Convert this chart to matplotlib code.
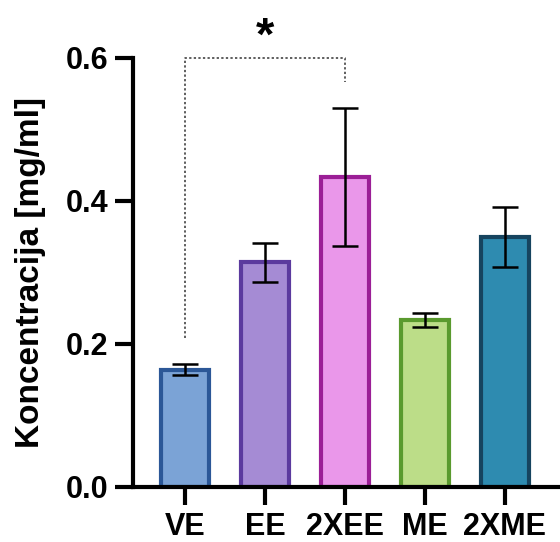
import matplotlib

matplotlib.use("Agg")
import matplotlib.pyplot as plt

plt.rcParams["font.family"] = ["Liberation Sans", "DejaVu Sans"]
plt.rcParams["font.weight"] = "bold"

groups = ["VE", "EE", "2XEE", "ME", "2XME"]
means = [0.164, 0.314, 0.434, 0.234, 0.350]
errors = [0.0077, 0.027, 0.0965, 0.0098, 0.042]
fills = ["#7ba3d6", "#a58bd4", "#ea97ea", "#bcdd88", "#2e8bb0"]
edges = ["#2b5797", "#5b3a9e", "#9b1e96", "#5a9a2e", "#16445f"]

# significance bracket between VE and 2XEE
sig_pair = (0, 2)
sig_left_low = 0.208
sig_right_low = 0.566
sig_top = 0.6
sig_label = "*"

fig = plt.figure(figsize=(5.6, 5.42), dpi=100)
ax = fig.add_axes([0.2375, 0.1015, 0.7625, 0.7915])

x = list(range(len(groups)))
ax.bar(x, means, width=0.6, color=fills, edgecolor=edges, linewidth=3, zorder=2)
ax.errorbar(x, means, yerr=errors, fmt="none", ecolor="black",
            elinewidth=1.8, capsize=9.5, capthick=1.8, zorder=3)

a, b = sig_pair
ax.plot([a, a, b, b], [sig_left_low, sig_top, sig_top, sig_right_low],
        color="#333333", linestyle=(0, (1.5, 1.5)), linewidth=1.1,
        clip_on=False, zorder=1)
ax.text((a + b) / 2, 0.628, sig_label, ha="center", va="center",
        fontsize=34, fontweight="bold", clip_on=False)

ax.set_xlim(-0.65, 4.69)
ax.set_ylim(0, 0.6)
ax.set_yticks([0.0, 0.2, 0.4, 0.6])
ax.set_yticklabels(["0.0", "0.2", "0.4", "0.6"])
ax.set_xticks(x)
ax.set_xticklabels(groups)
ax.set_ylabel("Koncentracija [mg/ml]", fontsize=24, fontweight="bold", labelpad=14)

for side in ["top", "right"]:
    ax.spines[side].set_visible(False)
for side in ["left", "bottom"]:
    ax.spines[side].set_linewidth(3)
ax.tick_params(axis="both", width=3, length=13, labelsize=22)
ax.tick_params(axis="y", pad=5)
ax.tick_params(axis="x", pad=5)

fig.savefig("out.png", dpi=100)
